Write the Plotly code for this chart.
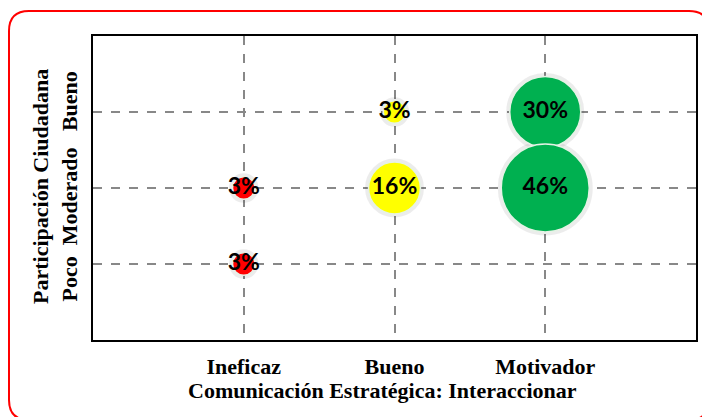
import plotly.graph_objects as go

# ---- data ----
x_categories = ["Ineficaz", "Bueno", "Motivador"]
y_categories = ["Poco", "Moderado", "Bueno"]
bubble_x = ["Ineficaz", "Ineficaz", "Bueno", "Bueno", "Motivador", "Motivador"]
bubble_y = ["Moderado", "Poco", "Bueno", "Moderado", "Bueno", "Moderado"]
bubble_pct = [3, 3, 3, 16, 30, 46]
bubble_colors = ["#FF0000", "#FF0000", "#FFFF00", "#FFFF00", "#00B050", "#00B050"]
x_title = "Comunicación Estratégica: Interaccionar"
y_title_lines = ["Participación Ciudadana", "Poco  Moderado   Bueno"]

# map categories to positions 1..n
xpos = [x_categories.index(c) + 1 for c in bubble_x]
ypos = [y_categories.index(c) + 1 for c in bubble_y]

OFF = 8  # page body margin
W, H = 702, 409
L, R, T, B = 85, 14, 28, 77
pw, ph = W - L - R, H - T - B

def px(xs):  # screen x -> paper
    return (xs - OFF - L) / pw

def py(ys):  # screen y -> paper
    return (H - B - (ys - OFF)) / ph

SIZEREF = 2 * 46 / 88 ** 2

fig = go.Figure()
# soft shadow halo under bubbles
fig.add_trace(go.Scatter(
    x=xpos, y=ypos, mode="markers",
    marker=dict(size=bubble_pct, sizemode="area", sizeref=SIZEREF,
                color="rgba(0,0,0,0.10)",
                line=dict(color="rgba(0,0,0,0.10)", width=7)),
    hoverinfo="skip", showlegend=False, cliponaxis=False,
))
fig.add_trace(go.Scatter(
    x=xpos, y=ypos, mode="markers+text",
    text=[f"{v}%" for v in bubble_pct],
    textposition="middle center",
    textfont=dict(family="Lato", size=23, color="black", weight="bold"),
    marker=dict(size=bubble_pct, sizemode="area", sizeref=SIZEREF,
                color=bubble_colors, opacity=1,
                line=dict(color="#E6F2E6", width=1.5)),
    hoverinfo="skip", showlegend=False, cliponaxis=False,
))

serif = "Liberation Serif"
fig.update_xaxes(
    range=[0, len(x_categories) + 1], tickvals=list(range(1, len(x_categories) + 1)),
    ticktext=x_categories, showgrid=True, gridcolor="#888888", gridwidth=2, griddash="dash",
    showline=True, linecolor="black", linewidth=2, mirror=True, zeroline=False,
    ticks="", ticklabelstandoff=6,
    tickfont=dict(family=serif, size=22, color="black", weight="bold"),
)
fig.update_yaxes(
    range=[0, len(y_categories) + 1], tickvals=list(range(1, len(y_categories) + 1)),
    showticklabels=False, showgrid=True, gridcolor="#888888", gridwidth=2, griddash="dash",
    showline=True, linecolor="black", linewidth=2, mirror=True, zeroline=False, ticks="",
)

annos = [
    dict(text=x_title, xref="paper", yref="paper", x=px(382), y=py(391),
         showarrow=False, xanchor="center", yanchor="middle",
         font=dict(family=serif, size=22, color="black", weight="bold")),
    dict(text="<br>".join(y_title_lines), xref="paper", yref="paper", x=px(55), y=py(187),
         showarrow=False, xanchor="center", yanchor="middle", textangle=-90,
         font=dict(family=serif, size=22, color="black", weight="bold")),
]

# rounded red frame
x0, y0, x1, y1, r = 9, 11, 709, 420, 20
path = (f"M {px(x0 + r)} {py(y0)} L {px(x1 - r)} {py(y0)} "
        f"Q {px(x1)} {py(y0)} {px(x1)} {py(y0 + r)} "
        f"L {px(x1)} {py(y1 - r)} Q {px(x1)} {py(y1)} {px(x1 - r)} {py(y1)} "
        f"L {px(x0 + r)} {py(y1)} Q {px(x0)} {py(y1)} {px(x0)} {py(y1 - r)} "
        f"L {px(x0)} {py(y0 + r)} Q {px(x0)} {py(y0)} {px(x0 + r)} {py(y0)} Z")

fig.update_layout(
    width=W, height=H, margin=dict(l=L, r=R, t=T, b=B),
    paper_bgcolor="white", plot_bgcolor="white",
    annotations=annos,
    shapes=[dict(type="path", path=path, xref="paper", yref="paper",
                 line=dict(color="#FF0000", width=2), layer="below")],
)

fig.write_html("out.html")
